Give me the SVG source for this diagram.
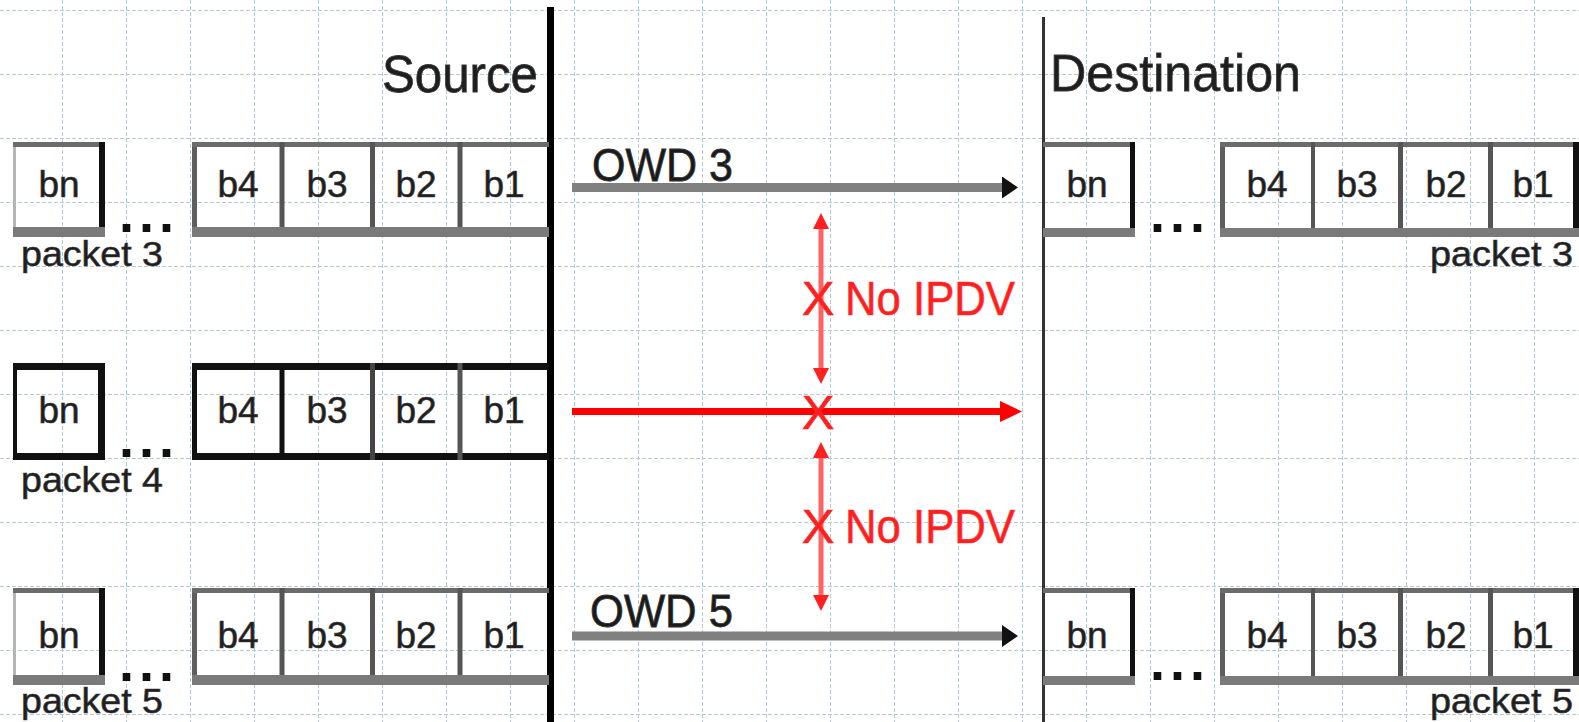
<svg xmlns="http://www.w3.org/2000/svg" width="1579" height="722" viewBox="0 0 1579 722">
<style>
.grid{stroke:#b3c9d6;stroke-width:1;stroke-dasharray:4 2;fill:none}
.top{fill:#6b6b6b}
.band{fill:#7a7a7a}
.edge{fill:#5e5e5e}
.div{fill:#555}
.blk{fill:#111}
.ledge{fill:#b5b5b5}
.lbl{font-family:"Liberation Sans",Arial,sans-serif;font-size:37px;fill:#1e1e1e;stroke:#3a3a3a;stroke-width:0.6px;text-anchor:middle}
.pk{font-family:"Liberation Sans",Arial,sans-serif;font-size:35px;fill:#1e1e1e;stroke:#3a3a3a;stroke-width:0.6px}
.dots{font-family:"Liberation Sans",Arial,sans-serif;font-size:54px;font-weight:bold;fill:#111;letter-spacing:5px}
.title{font-family:"Liberation Sans",Arial,sans-serif;font-size:52px;fill:#1e1e1e;stroke:#3a3a3a;stroke-width:0.8px}
.owd{font-family:"Liberation Sans",Arial,sans-serif;font-size:47px;fill:#1a1a1a;stroke:#333;stroke-width:0.8px}
.red{font-family:"Liberation Sans",Arial,sans-serif;font-size:49px;fill:#ff1f1f;stroke:#ff3030;stroke-width:0.6px}
.garrow{stroke:#808080;stroke-width:9;fill:none;marker-end:url(#hBlack)}
.rarrow{stroke:#ff0000;stroke-width:7;fill:none;marker-end:url(#hRed)}
.varrow{stroke:#ff6464;stroke-width:5;fill:none;marker-start:url(#hV);marker-end:url(#hV)}
</style>
<defs>
<marker id="hBlack" markerUnits="userSpaceOnUse" markerWidth="16" markerHeight="22" refX="2" refY="11" orient="auto"><path d="M0,0 L16,11 L0,22 z" fill="#111"/></marker>
<marker id="hRed" markerUnits="userSpaceOnUse" markerWidth="22" markerHeight="21" refX="3" refY="10.5" orient="auto"><path d="M0,0 L22,10.5 L0,21 z" fill="#ff0000"/></marker>
<marker id="hV" markerUnits="userSpaceOnUse" markerWidth="16" markerHeight="16" refX="0" refY="8" orient="auto-start-reverse"><path d="M0,0 L16,8 L0,16 z" fill="#ff2020"/></marker>
</defs>
<rect width="1579" height="722" fill="#fff"/>
<path class="grid" d="M62.5 0V722M126.5 0V722M190.5 0V722M254.5 0V722M318.5 0V722M382.5 0V722M446.5 0V722M510.5 0V722M574.5 0V722M638.5 0V722M702.5 0V722M766.5 0V722M830.5 0V722M894.5 0V722M958.5 0V722M1022.5 0V722M1086.5 0V722M1150.5 0V722M1214.5 0V722M1278.5 0V722M1342.5 0V722M1406.5 0V722M1470.5 0V722M1534.5 0V722M0 10.5H1579M0 74.5H1579M0 138.5H1579M0 202.5H1579M0 266.5H1579M0 330.5H1579M0 394.5H1579M0 458.5H1579M0 522.5H1579M0 586.5H1579M0 650.5H1579M0 714.5H1579"/>

<g id="source">
<line x1="550.5" y1="7" x2="550.5" y2="722" stroke="#000" stroke-width="7"/>
<text class="title" x="382" y="92" textLength="156" lengthAdjust="spacingAndGlyphs">Source</text>
</g>
<g id="destination">
<line x1="1043.5" y1="17" x2="1043.5" y2="722" stroke="#333" stroke-width="3"/>
<text class="title" x="1050" y="91" textLength="251" lengthAdjust="spacingAndGlyphs">Destination</text>
</g>

<g id="src-packet3">
<rect class="ledge" x="13" y="144" width="3" height="85"/>
<rect class="top" x="13" y="142" width="92" height="5"/>
<rect class="blk" x="99" y="142" width="6" height="88"/>
<rect class="band" x="13" y="227" width="92" height="10"/>
<rect class="edge" x="192" y="142" width="5" height="88"/>
<rect class="top" x="192" y="142" width="357" height="5"/>
<rect class="div" x="279.5" y="142" width="5" height="88"/>
<rect class="div" x="370" y="142" width="5" height="88"/>
<rect class="div" x="457.5" y="142" width="5" height="88"/>
<rect class="band" x="192" y="227" width="357" height="10"/>
<text class="lbl" x="59" y="197">bn</text>
<text class="lbl" x="238" y="197">b4</text>
<text class="lbl" x="327" y="197">b3</text>
<text class="lbl" x="416" y="197">b2</text>
<text class="lbl" x="504" y="197">b1</text>
<text class="dots" x="119" y="232">...</text>
<text class="pk" x="21" y="266" textLength="142" lengthAdjust="spacingAndGlyphs">packet 3</text>
</g>

<g id="src-packet4">
<rect class="blk" x="13" y="363" width="4" height="97"/>
<rect class="blk" x="13" y="363" width="92" height="7"/>
<rect class="blk" x="98" y="363" width="7" height="97"/>
<rect class="blk" x="13" y="453" width="92" height="7"/>
<rect class="blk" x="192" y="363" width="5" height="97"/>
<rect class="blk" x="192" y="363" width="357" height="7"/>
<rect class="blk" x="192" y="453" width="357" height="7"/>
<rect class="blk" x="279.5" y="363" width="5" height="97"/>
<rect x="370" y="363" width="5" height="97" fill="#444"/>
<rect x="457.5" y="363" width="5" height="97" fill="#555"/>
<text class="lbl" x="59" y="423">bn</text>
<text class="lbl" x="238" y="423">b4</text>
<text class="lbl" x="327" y="423">b3</text>
<text class="lbl" x="416" y="423">b2</text>
<text class="lbl" x="504" y="423">b1</text>
<text class="dots" x="119" y="457">...</text>
<text class="pk" x="21" y="492" textLength="142" lengthAdjust="spacingAndGlyphs">packet 4</text>
</g>

<g id="src-packet5">
<rect class="ledge" x="13" y="590" width="3" height="86"/>
<rect class="top" x="13" y="588" width="92" height="5"/>
<rect class="blk" x="99" y="588" width="6" height="89"/>
<rect class="band" x="13" y="675" width="92" height="10"/>
<rect class="edge" x="192" y="588" width="5" height="89"/>
<rect class="top" x="192" y="588" width="357" height="5"/>
<rect class="div" x="279.5" y="588" width="5" height="89"/>
<rect class="div" x="370" y="588" width="5" height="89"/>
<rect class="div" x="457.5" y="588" width="5" height="89"/>
<rect class="band" x="192" y="675" width="357" height="10"/>
<text class="lbl" x="59" y="648">bn</text>
<text class="lbl" x="238" y="648">b4</text>
<text class="lbl" x="327" y="648">b3</text>
<text class="lbl" x="416" y="648">b2</text>
<text class="lbl" x="504" y="648">b1</text>
<text class="dots" x="119" y="681">...</text>
<text class="pk" x="21" y="713" textLength="142" lengthAdjust="spacingAndGlyphs">packet 5</text>
</g>

<g id="dst-packet3">
<rect class="top" x="1043" y="142" width="92" height="5"/>
<rect class="blk" x="1130" y="142" width="5" height="88"/>
<rect class="band" x="1043" y="228" width="92" height="9"/>
<rect class="edge" x="1220" y="142" width="5" height="88"/>
<rect class="top" x="1220" y="142" width="359" height="5"/>
<rect class="div" x="1311" y="142" width="4" height="88"/>
<rect class="div" x="1398" y="142" width="5" height="88"/>
<rect class="div" x="1488" y="142" width="5" height="88"/>
<rect class="blk" x="1573" y="142" width="6" height="88"/>
<rect class="band" x="1220" y="228" width="359" height="9"/>
<text class="lbl" x="1087" y="197">bn</text>
<text class="lbl" x="1267" y="197">b4</text>
<text class="lbl" x="1357" y="197">b3</text>
<text class="lbl" x="1446" y="197">b2</text>
<text class="lbl" x="1533" y="197">b1</text>
<text class="dots" x="1150" y="232">...</text>
<text class="pk" x="1430" y="266" textLength="143" lengthAdjust="spacingAndGlyphs">packet 3</text>
</g>

<g id="dst-packet5">
<rect class="top" x="1043" y="588" width="92" height="5"/>
<rect class="blk" x="1130" y="588" width="5" height="89"/>
<rect class="band" x="1043" y="676" width="92" height="9"/>
<rect class="edge" x="1220" y="588" width="5" height="89"/>
<rect class="top" x="1220" y="588" width="359" height="5"/>
<rect class="div" x="1311" y="588" width="4" height="89"/>
<rect class="div" x="1398" y="588" width="5" height="89"/>
<rect class="div" x="1488" y="588" width="5" height="89"/>
<rect class="blk" x="1573" y="588" width="6" height="89"/>
<rect class="band" x="1220" y="676" width="359" height="9"/>
<text class="lbl" x="1087" y="648">bn</text>
<text class="lbl" x="1267" y="648">b4</text>
<text class="lbl" x="1357" y="648">b3</text>
<text class="lbl" x="1446" y="648">b2</text>
<text class="lbl" x="1533" y="648">b1</text>
<text class="dots" x="1150" y="680">...</text>
<text class="pk" x="1430" y="713" textLength="143" lengthAdjust="spacingAndGlyphs">packet 5</text>
</g>

<g id="connectors">
<line class="garrow" x1="572" y1="187.5" x2="1004" y2="187.5"/>
<text class="owd" x="592" y="181" textLength="141" lengthAdjust="spacingAndGlyphs">OWD 3</text>
<line class="garrow" x1="572" y1="636" x2="1004" y2="636"/>
<text class="owd" x="590" y="627" textLength="143" lengthAdjust="spacingAndGlyphs">OWD 5</text>
<line class="rarrow" x1="572" y1="411.5" x2="1003" y2="411.5"/>
<line class="varrow" x1="821" y1="229" x2="821" y2="368"/>
<line class="varrow" x1="821" y1="458" x2="821" y2="595"/>
<text class="red" x="818" y="315" text-anchor="middle">X</text>
<text class="red" x="845" y="315" textLength="170" lengthAdjust="spacingAndGlyphs">No IPDV</text>
<text class="red" x="818" y="429" text-anchor="middle" font-size="52">X</text>
<text class="red" x="818" y="543" text-anchor="middle">X</text>
<text class="red" x="845" y="543" textLength="170" lengthAdjust="spacingAndGlyphs">No IPDV</text>
</g>
</svg>
